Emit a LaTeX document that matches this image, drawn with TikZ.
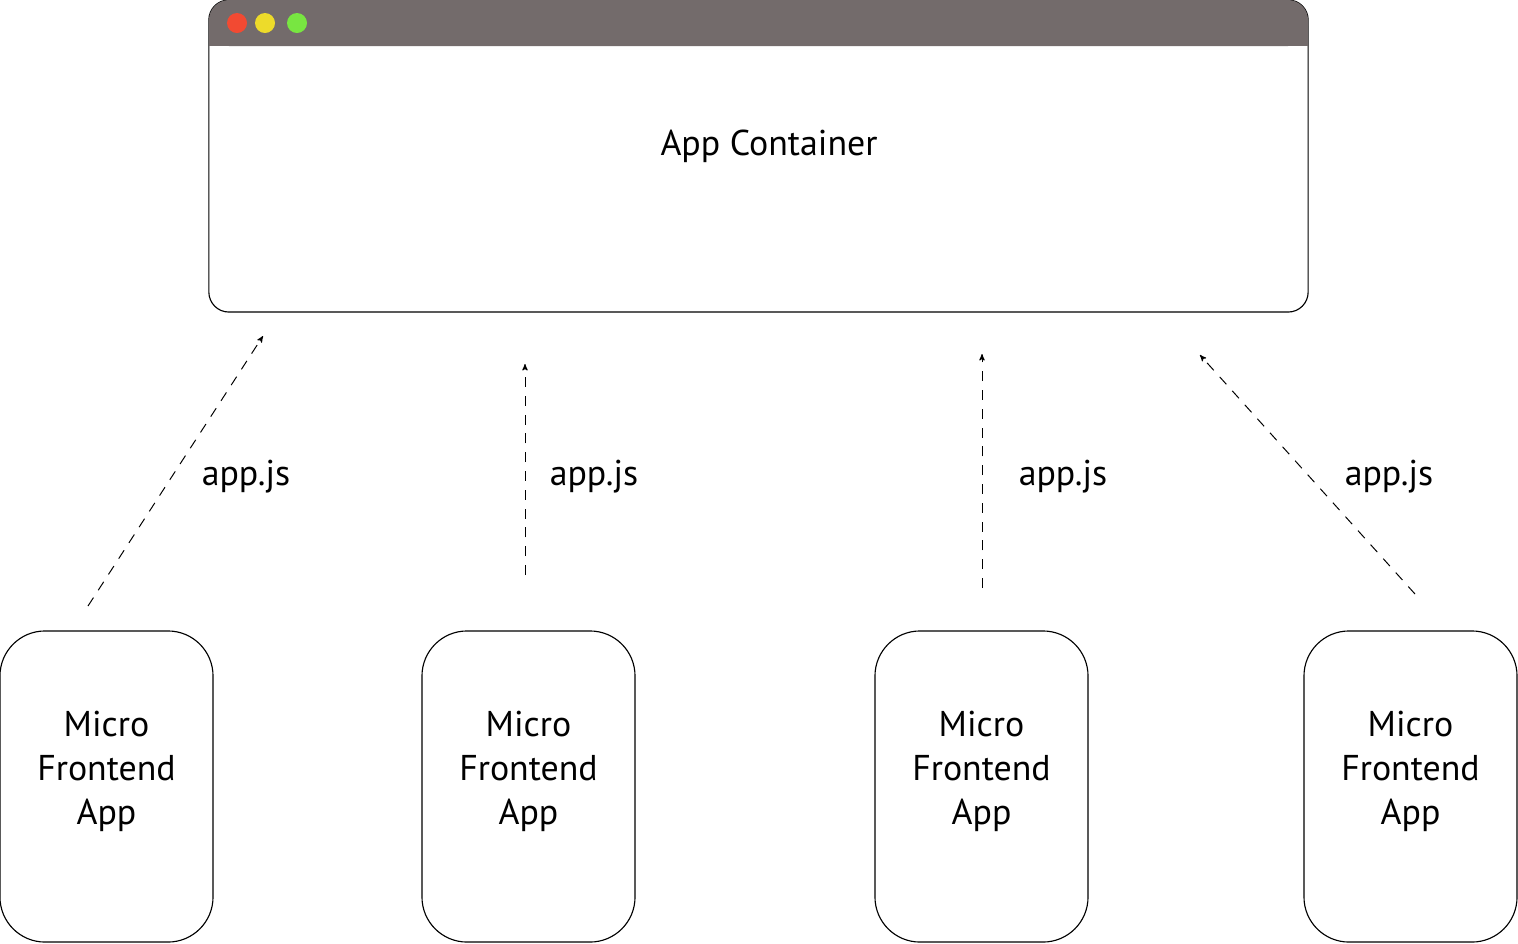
\documentclass[tikz,border=0pt]{standalone}
\usepackage{fontspec}
\setmainfont{PT Sans}
\usepackage{tikz}
\usetikzlibrary{arrows}

\definecolor{barcol}{HTML}{736B6B}
\definecolor{redbtn}{HTML}{F24A32}
\definecolor{yellowbtn}{HTML}{EDDB2A}
\definecolor{greenbtn}{HTML}{78E641}

\begin{document}
\begin{tikzpicture}[x=0.025cm,y=-0.025cm,>=stealth',line width=0.8pt,
  big font/.style={font=\fontsize{25.5}{31}\selectfont},
  app node/.style={draw,rounded corners=1.125cm,minimum width=5.325cm,minimum height=7.775cm,align=center,big font,inner sep=0pt},
  container node/.style={draw,rounded corners=0.5cm,minimum width=27.475cm,minimum height=7.8cm,inner sep=0pt},
  button/.style={circle,inner sep=0pt,minimum size=0.5cm},
  label node/.style={big font,inner sep=0pt},
  link/.style={->,dashed,dash pattern=on 0.25cm off 0.22cm,line width=0.7pt}]

  \useasboundingbox (0,0) rectangle (1518,943);

  % app container window
  \node[container node] (cont) at (758.5,156) {};
  \fill[barcol,rounded corners=0.5cm] (209,0) rectangle (1308,46);
  \fill[barcol] (209,25) rectangle (1308,46);
  \node[button,fill=redbtn] (b1) at (237,23) {};
  \node[button,fill=yellowbtn] (b2) at (265,23) {};
  \node[button,fill=greenbtn] (b3) at (297,23) {};
  \node[label node] (title) at (769,146) {App Container};

  % micro frontends
  \node[app node] (m1) at (106.5,786.5) {Micro\\Frontend\\App\\[-0.15cm]};
  \node[app node] (m2) at (528.5,786.5) {Micro\\Frontend\\App\\[-0.15cm]};
  \node[app node] (m3) at (981.5,786.5) {Micro\\Frontend\\App\\[-0.15cm]};
  \node[app node] (m4) at (1410.5,786.5) {Micro\\Frontend\\App\\[-0.15cm]};

  % loading arrows
  \coordinate (s1) at (88,606);   \coordinate (e1) at (263,336);
  \coordinate (s2) at (525,575);  \coordinate (e2) at (525,364);
  \coordinate (s3) at (982,588);  \coordinate (e3) at (982,354);
  \coordinate (s4) at (1415,594); \coordinate (e4) at (1200,355);

  \draw[link] (s1) -- (e1);
  \draw[link] (s2) -- (e2);
  \draw[link] (s3) -- (e3);
  \draw[link] (s4) -- (e4);

  \node[label node] (l1) at (246,477) {app.js};
  \node[label node] (l2) at (594,477) {app.js};
  \node[label node] (l3) at (1063,477) {app.js};
  \node[label node] (l4) at (1389,477) {app.js};
\end{tikzpicture}
\end{document}
